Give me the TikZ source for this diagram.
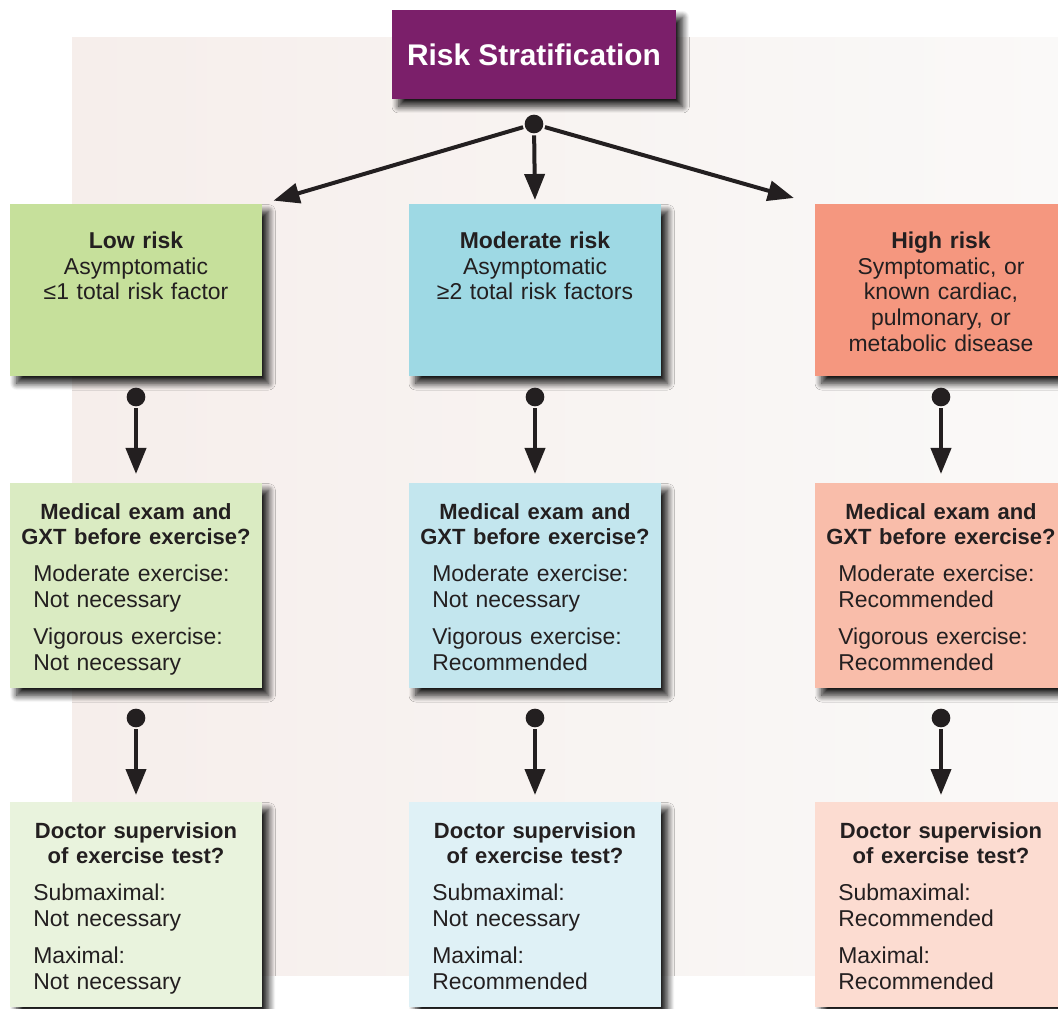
\documentclass[tikz,border=0pt]{standalone}
\usepackage{fontspec}
\setmainfont{Liberation Sans}
\usetikzlibrary{arrows.meta,shadows.blur}

\definecolor{ink}{HTML}{231F20}
\definecolor{plum}{HTML}{7B1F6A}
\definecolor{paneL}{HTML}{F6EEEB}\definecolor{paneR}{HTML}{FAF9F8}
\definecolor{lowA}{HTML}{C6E09B}\definecolor{lowB}{HTML}{DAEBC2}\definecolor{lowC}{HTML}{E9F3DD}
\definecolor{modA}{HTML}{9ED9E4}\definecolor{modB}{HTML}{C3E6EE}\definecolor{modC}{HTML}{DFF1F6}
\definecolor{highA}{HTML}{F5977F}\definecolor{highB}{HTML}{F9BDAA}\definecolor{highC}{HTML}{FCDCD1}

\newcommand\boxhead[1]{{\centering\fontsize{16.5}{19.2}\selectfont\bfseries #1\par}}
\newcommand\boxbody[1]{\vspace{8.7pt}{\leftskip=17.5pt\rightskip=0pt plus 1fil\parindent=0pt #1\par}}

\begin{document}
\begin{tikzpicture}[->,>={Triangle[length=19.5pt,width=15pt]},x=0.75pt,y=-0.75pt,
                    line width=3pt,draw=ink]

  \tikzstyle{box}=[rectangle,anchor=north west,text width=189pt,inner xsep=0pt,
                   inner ysep=0pt,outer sep=0pt,text=ink,font=\fontsize{17.2}{19.2}\selectfont,
                   blur shadow={shadow xshift=5pt,shadow yshift=-5.5pt,shadow blur steps=10,
                                shadow blur radius=5pt,shadow opacity=90}]
  \tikzstyle{risk}=[box,align=center,text height=33.5pt,text depth=95.5pt]
  \tikzstyle{check}=[box,text height=27pt,text depth=126.75pt]
  \tikzstyle{dot}=[circle,fill=ink,inner sep=0pt,minimum size=14pt]

  \clip (0,0) rectangle (1058,1009);
  \shade[-,left color=paneL,right color=paneR] (72,38) rectangle (1058,975);

  \node[box,anchor=center,align=center,fill=plum,text=white,text width=,
        minimum width=213pt,minimum height=66.75pt,
        font=\fontsize{22.4}{26}\selectfont\bfseries] (RS) at (534,54.5) {Risk Stratification};
  \node[dot] (D0) at (534,124) {};

  \node[risk,fill=lowA]  (LR) at (10,204)  {\textbf{Low risk}\\Asymptomatic\\≤1 total risk factor};
  \node[risk,fill=modA]  (MR) at (409,204) {\textbf{Moderate risk}\\Asymptomatic\\≥2 total risk factors};
  \node[risk,fill=highA] (HR) at (815,204) {\textbf{High risk}\\Symptomatic, or\\known cardiac,\\pulmonary, or\\metabolic disease};

  \node[dot] (DL1) at (136,397) {}; \node[dot] (DM1) at (535,397) {}; \node[dot] (DH1) at (941,397) {};

  \node[check,fill=lowB]  (LE) at (10,483)  {\boxhead{Medical exam and\\GXT before exercise?}%
    \boxbody{Moderate exercise:\\Not necessary}\boxbody{Vigorous exercise:\\Not necessary}};
  \node[check,fill=modB]  (ME) at (409,483) {\boxhead{Medical exam and\\GXT before exercise?}%
    \boxbody{Moderate exercise:\\Not necessary}\boxbody{Vigorous exercise:\\Recommended}};
  \node[check,fill=highB] (HE) at (815,483) {\boxhead{Medical exam and\\GXT before exercise?}%
    \boxbody{Moderate exercise:\\Recommended}\boxbody{Vigorous exercise:\\Recommended}};

  \node[dot] (DL2) at (136,718) {}; \node[dot] (DM2) at (535,718) {}; \node[dot] (DH2) at (941,718) {};

  \node[check,fill=lowC]  (LD) at (10,802)  {\boxhead{Doctor supervision\\of exercise test?}%
    \boxbody{Submaximal:\\Not necessary}\boxbody{Maximal:\\Not necessary}};
  \node[check,fill=modC]  (MD) at (409,802) {\boxhead{Doctor supervision\\of exercise test?}%
    \boxbody{Submaximal:\\Not necessary}\boxbody{Maximal:\\Recommended}};
  \node[check,fill=highC] (HD) at (815,802) {\boxhead{Doctor supervision\\of exercise test?}%
    \boxbody{Submaximal:\\Recommended}\boxbody{Maximal:\\Recommended}};

  \path
  (D0) edge [shorten >=9pt]    (LR.north east)
  (D0) edge [shorten >=3pt]    (MR.north)
  (D0) edge [shorten >=16.5pt] (HR.north west)
  ;

  \path
  (DL1) edge [shorten >=6.75pt] (LE.north)
  (DM1) edge [shorten >=6.75pt] (ME.north)
  (DH1) edge [shorten >=6.75pt] (HE.north)

  (DL2) edge [shorten >=5.25pt] (LD.north)
  (DM2) edge [shorten >=5.25pt] (MD.north)
  (DH2) edge [shorten >=5.25pt] (HD.north)
  ;

\end{tikzpicture}
\end{document}
